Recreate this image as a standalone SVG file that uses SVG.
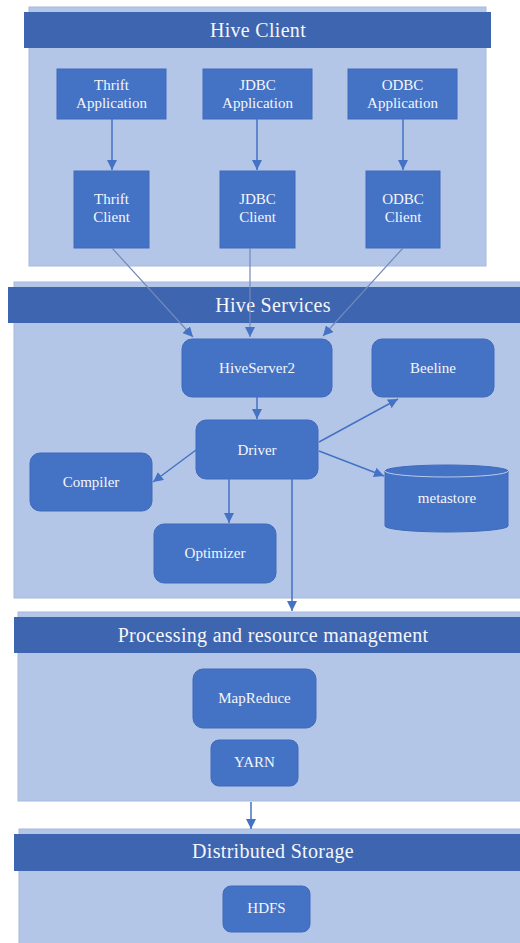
<svg xmlns="http://www.w3.org/2000/svg" width="520" height="943" viewBox="0 0 520 943">
  <defs>
    <style>
      .panel { fill: #b4c6e7; stroke: #a6b9dc; stroke-width: 1; }
      .header { fill: #3e65b0; }
      .node { fill: #4472c4; stroke: #3f6bbb; stroke-width: 1; }
      .title { font-family: "Liberation Serif", "Times New Roman", serif; font-size: 20px; fill: #f4f6fb; text-anchor: middle; letter-spacing: 0.3px; }
      .label { font-family: "Liberation Serif", "Times New Roman", serif; font-size: 15px; fill: #f4f6fb; text-anchor: middle; }
      .edge { fill: none; stroke: #4472c4; stroke-width: 1.5; marker-end: url(#arrow); }
      .link { fill: none; stroke: #7389bb; stroke-width: 1.2; marker-end: url(#arrow); }
    </style>
    <marker id="arrow" viewBox="0 0 10 10" refX="10" refY="5" markerWidth="10" markerHeight="10" markerUnits="userSpaceOnUse" orient="auto">
      <path d="M0,0 L10,5 L0,10 z" fill="#4472c4"/>
    </marker>
  </defs>

  <rect width="520" height="943" fill="#ffffff"/>

  <!-- Layer panels and title bars -->
  <g id="layer-hive-client">
    <rect class="panel" x="29" y="7" width="457" height="259"/>
    <rect class="header" x="24" y="12" width="467" height="36"/>
    <text class="title" x="258" y="37">Hive Client</text>
  </g>
  <g id="layer-hive-services">
    <rect class="panel" x="14" y="282" width="520" height="316"/>
    <rect class="header" x="8" y="287" width="530" height="36"/>
    <text class="title" x="273" y="312">Hive Services</text>
  </g>
  <g id="layer-processing">
    <rect class="panel" x="18" y="612" width="520" height="189"/>
    <rect class="header" x="14" y="617" width="530" height="36"/>
    <text class="title" x="273" y="642">Processing and resource management</text>
  </g>
  <g id="layer-storage">
    <rect class="panel" x="19" y="829" width="520" height="120"/>
    <rect class="header" x="14" y="834" width="530" height="37"/>
    <text class="title" x="273" y="858">Distributed Storage</text>
  </g>

  <!-- Client applications -->
  <g id="thrift-application">
    <rect class="node" x="57" y="69" width="109" height="50"/>
    <text class="label" x="111.5" y="90">Thrift</text>
    <text class="label" x="111.5" y="108">Application</text>
  </g>
  <g id="jdbc-application">
    <rect class="node" x="203" y="69" width="109" height="50"/>
    <text class="label" x="257.5" y="90">JDBC</text>
    <text class="label" x="257.5" y="108">Application</text>
  </g>
  <g id="odbc-application">
    <rect class="node" x="348" y="69" width="109" height="50"/>
    <text class="label" x="402.5" y="90">ODBC</text>
    <text class="label" x="402.5" y="108">Application</text>
  </g>

  <!-- Client drivers -->
  <g id="thrift-client">
    <rect class="node" x="74" y="171" width="75" height="77"/>
    <text class="label" x="111.5" y="204">Thrift</text>
    <text class="label" x="111.5" y="222">Client</text>
  </g>
  <g id="jdbc-client">
    <rect class="node" x="220" y="171" width="75" height="77"/>
    <text class="label" x="257.5" y="204">JDBC</text>
    <text class="label" x="257.5" y="222">Client</text>
  </g>
  <g id="odbc-client">
    <rect class="node" x="366" y="171" width="74" height="77"/>
    <text class="label" x="403" y="204">ODBC</text>
    <text class="label" x="403" y="222">Client</text>
  </g>

  <!-- Hive services -->
  <g id="hiveserver2">
    <rect class="node" x="182" y="339" width="150" height="58" rx="10"/>
    <text class="label" x="257" y="373">HiveServer2</text>
  </g>
  <g id="beeline">
    <rect class="node" x="372" y="339" width="122" height="58" rx="10"/>
    <text class="label" x="433" y="373">Beeline</text>
  </g>
  <g id="driver">
    <rect class="node" x="196" y="420" width="122" height="59" rx="10"/>
    <text class="label" x="257" y="455">Driver</text>
  </g>
  <g id="compiler">
    <rect class="node" x="30" y="453" width="122" height="58" rx="10"/>
    <text class="label" x="91" y="487">Compiler</text>
  </g>
  <g id="optimizer">
    <rect class="node" x="154" y="524" width="122" height="59" rx="10"/>
    <text class="label" x="215" y="558">Optimizer</text>
  </g>
  <g id="metastore">
    <path class="node" d="M385,471 A61.5,6 0 0 1 508,471 L508,526 A61.5,6 0 0 1 385,526 Z"/>
    <path d="M385,471 A61.5,6 0 0 0 508,471" fill="none" stroke="#b9cbea" stroke-width="1"/>
    <text class="label" x="447" y="503">metastore</text>
  </g>

  <!-- Processing and storage -->
  <g id="mapreduce">
    <rect class="node" x="193" y="669" width="123" height="59" rx="10"/>
    <text class="label" x="254.5" y="703">MapReduce</text>
  </g>
  <g id="yarn">
    <rect class="node" x="211" y="740" width="87" height="46" rx="8"/>
    <text class="label" x="254.5" y="767">YARN</text>
  </g>
  <g id="hdfs">
    <rect class="node" x="223" y="886" width="87" height="46" rx="8"/>
    <text class="label" x="266.5" y="913">HDFS</text>
  </g>

  <!-- Connectors -->
  <g id="connectors">
    <path class="edge" d="M112,119 L112,170"/>
    <path class="edge" d="M257,119 L257,170"/>
    <path class="edge" d="M403,119 L403,170"/>
    <path class="link" d="M112,248 L193,337"/>
    <path class="link" d="M250,248 L250,337"/>
    <path class="link" d="M403,248 L323,336"/>
    <path class="edge" d="M257,397 L257,419"/>
    <path class="edge" d="M319,442 L398,399"/>
    <path class="edge" d="M196,450 L153,482"/>
    <path class="edge" d="M229,479 L229,523"/>
    <path class="edge" d="M319,451 L384,476"/>
    <path class="edge" d="M292,479 L292,611"/>
    <path class="edge" d="M251,802 L251,829"/>
  </g>
</svg>
